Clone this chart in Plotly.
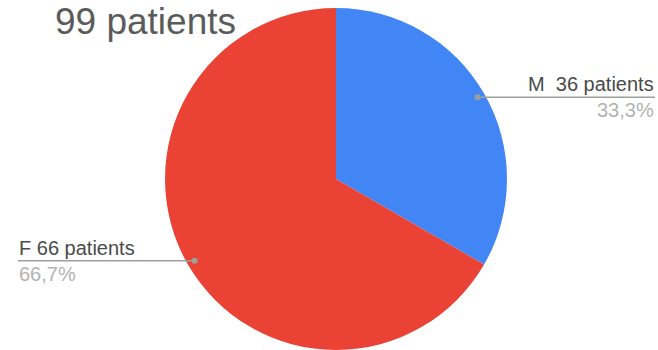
import math
import plotly.graph_objects as go

# Patient counts by sex
labels = ["M  36 patients", "F 66 patients"]
values = [33, 66]
colors = ["#4285F4", "#EA4335"]
title_text = "99 patients"

W, H = 658, 350
FONT = "Liberation Sans, Arial, sans-serif"

# Pie geometry (pixels)
cx, cy, R = 336, 179, 171


def px_x(x):
    return x / W


def px_y(y):
    return 1 - y / H


fig = go.Figure(
    go.Pie(
        labels=labels,
        values=values,
        marker=dict(colors=colors, line=dict(width=0)),
        sort=False,
        direction="clockwise",
        rotation=0,
        textinfo="none",
        hoverinfo="label+percent",
        domain=dict(x=[px_x(cx - R), px_x(cx + R)], y=[px_y(cy + R), px_y(cy - R)]),
        showlegend=False,
    )
)

total = sum(values)
shapes, annotations = [], []
start = 0.0
line_col = "#9e9e9e"
for i, (lab, v) in enumerate(zip(labels, values)):
    frac = v / total
    mid = (start + frac / 2) * 2 * math.pi  # clockwise from 12 o'clock
    start += frac
    dx = math.sin(mid) * R * 0.955
    dy = -math.cos(mid) * R * 0.955
    px, py = cx + dx, cy + dy
    right = dx > 0
    end_x = 655 if right else 18
    shapes.append(dict(type="line", xref="paper", yref="paper",
                       x0=px_x(px), y0=px_y(py), x1=px_x(end_x), y1=px_y(py),
                       line=dict(color=line_col, width=1.5)))
    shapes.append(dict(type="circle", xref="paper", yref="paper",
                       x0=px_x(px - 3), x1=px_x(px + 3), y0=px_y(py - 3), y1=px_y(py + 3),
                       fillcolor=line_col, line=dict(width=0)))
    anchor = "right" if right else "left"
    annotations.append(dict(
        xref="paper", yref="paper", x=px_x(end_x), y=px_y(py - 1),
        xanchor=anchor, yanchor="bottom", showarrow=False,
        text=lab.replace("  ", "\u00a0 "),
        font=dict(family=FONT, size=20, color="#4a4a4a"), borderpad=0,
    ))
    annotations.append(dict(
        xref="paper", yref="paper", x=px_x(end_x), y=px_y(py + 1),
        xanchor=anchor, yanchor="top", showarrow=False,
        text=f"{frac * 100:.1f}%".replace(".", ","),
        font=dict(family=FONT, size=20, color="#b3b3b3"), borderpad=0,
    ))

annotations.append(dict(
    xref="paper", yref="paper", x=px_x(54), y=px_y(0),
    xanchor="left", yanchor="top", showarrow=False,
    text=title_text, font=dict(family=FONT, size=37, color="#5b5b5b"), borderpad=0,
))

fig.update_layout(
    width=W, height=H,
    margin=dict(l=0, r=0, t=0, b=0),
    paper_bgcolor="white", plot_bgcolor="white",
    shapes=shapes, annotations=annotations,
)

fig.write_html("out.html")
